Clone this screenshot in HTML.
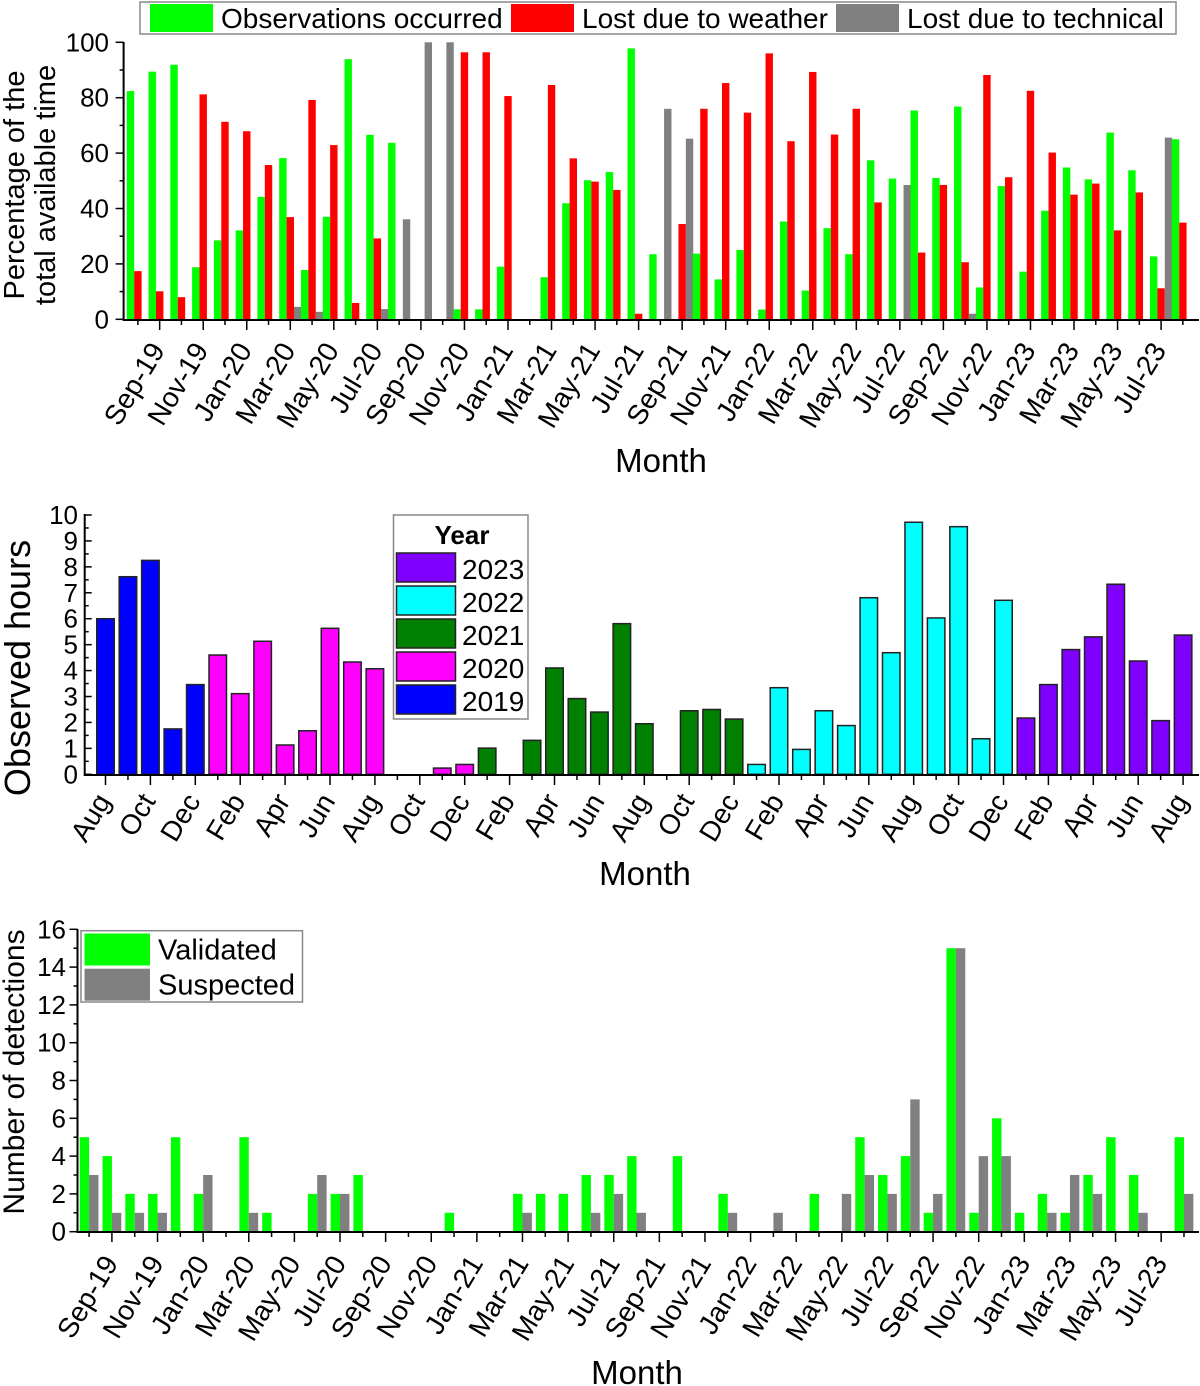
<!DOCTYPE html>
<html><head><meta charset="utf-8">
<style>
html,body{margin:0;padding:0;background:#fff;}
svg{display:block;font-family:"Liberation Sans",Arial,sans-serif;}
</style></head>
<body>
<svg id="fig" width="1200" height="1386" viewBox="0 0 1200 1386" xmlns="http://www.w3.org/2000/svg"></svg>
<script>
// ---------- Panel 1 data (percentage of available time), Aug-19 .. Aug-23 ----------
const p1Observed = [82.4,89.4,91.9,18.8,28.5,32.1,44.2,58.2,17.8,37,93.9,66.6,63.7,0,0,3.6,3.6,19,0,15.2,41.9,50.2,53.2,97.8,23.5,0,23.7,14.4,25,3.5,35.3,10.4,32.9,23.5,57.4,50.8,75.4,51,76.8,11.5,48.1,17.2,39.2,54.8,50.5,67.4,53.8,22.7,65];
const p1Weather = [17.4,10.1,8,81.2,71.3,67.9,55.7,36.9,79.2,62.9,5.9,29.2,0,0,0,96.4,96.4,80.6,0,84.6,58.1,49.7,46.7,2,0,34.4,76,85.3,74.6,96,64.3,89.3,66.7,76,42.2,0,24.1,48.5,20.6,88.2,51.3,82.5,60.2,45,49,32.1,45.8,11.2,34.9];
const p1Technical = [0,0,0,0,0,0,0,4.5,2.7,0,0,3.7,36.1,100,100,0,0,0,0,0,0,0,0,0,76,65.2,0,0,0,0,0,0,0,0,0,48.5,0,0,2,0,0,0,0,0,0,0,0,65.6,0];
const p1TickLabels = ["Sep-19","Nov-19","Jan-20","Mar-20","May-20","Jul-20","Sep-20","Nov-20","Jan-21","Mar-21","May-21","Jul-21","Sep-21","Nov-21","Jan-22","Mar-22","May-22","Jul-22","Sep-22","Nov-22","Jan-23","Mar-23","May-23","Jul-23"];
const p1YTicks = [0,20,40,60,80,100];

// ---------- Panel 2 data (observed hours) ----------
const p2Hours = [6.0,7.62,8.25,1.75,3.46,4.6,3.11,5.13,1.13,1.68,5.63,4.33,4.07,0,0,0.24,0.38,1.01,0,1.31,4.1,2.92,2.4,5.81,1.95,0,2.45,2.5,2.13,0.38,3.34,0.96,2.45,1.88,6.81,4.69,9.72,6.03,9.55,1.37,6.71,2.17,3.46,4.81,5.3,7.33,4.37,2.07,5.37];
const p2Year = [2019,2019,2019,2019,2019,2020,2020,2020,2020,2020,2020,2020,2020,2020,2020,2020,2020,2021,2021,2021,2021,2021,2021,2021,2021,2021,2021,2021,2021,2022,2022,2022,2022,2022,2022,2022,2022,2022,2022,2022,2022,2023,2023,2023,2023,2023,2023,2023,2023];
const p2TickLabels = ["Aug","Oct","Dec","Feb","Apr","Jun","Aug","Oct","Dec","Feb","Apr","Jun","Aug","Oct","Dec","Feb","Apr","Jun","Aug","Oct","Dec","Feb","Apr","Jun","Aug"];
const p2YTicks = [0,1,2,3,4,5,6,7,8,9,10];
const p2LegendYears = [2023,2022,2021,2020,2019];

// ---------- Panel 3 data (detections) ----------
const p3Validated = [5,4,2,2,5,2,0,5,1,0,2,2,3,0,0,0,1,0,0,2,2,2,3,3,4,0,4,0,2,0,0,0,2,0,5,3,4,1,15,1,6,1,2,1,3,5,3,0,5];
const p3Suspected = [3,1,1,1,0,3,0,1,0,0,3,2,0,0,0,0,0,0,0,1,0,0,1,2,1,0,0,0,1,0,1,0,0,2,3,2,7,2,15,4,4,0,1,3,2,0,1,0,2];
const p3TickLabels = p1TickLabels;
const p3YTicks = [0,2,4,6,8,10,12,14,16];

const NS = "http://www.w3.org/2000/svg";
const svg = document.getElementById("fig");
function mk(tag, attrs, parent, text) {
  const e = document.createElementNS(NS, tag);
  for (const k in attrs) e.setAttribute(k, attrs[k]);
  if (text !== undefined) e.textContent = text;
  (parent || svg).appendChild(e);
  return e;
}
const yearColor = {2019:"#0000ff",2020:"#ff00ff",2021:"#008000",2022:"#00ffff",2023:"#8000ff"};
const TICKFS = 28, YFS = 26, LEGFS = 28, TITLEFS = 33, ROT = -59;

// ================= PANEL 1 =================
{
  const g = mk("g", {});
  
  
  const x = i => 137.9 + 21.77 * i;
  const y = v => 319.3 - v * 2.77;
  const bw = 7.4;
  for (let i = 0; i < p1Observed.length; i++) {
    const series = [[p1Observed[i], "#00ff00", -1.5, "bar-observed"], [p1Weather[i], "#ff0000", -0.5, "bar-weather"], [p1Technical[i], "#808080", 0.5, "bar-technical"]];
    for (const [v, c, off, nm] of series) {
      if (v <= 0) continue;
      const r = mk("rect", {x: x(i) + off * bw, y: y(v), width: bw, height: y(0) - y(v), fill: c}, g);
      
      
    }
  }
  const ax = mk("path", {d: "M123.6,42 V320 H1199", stroke: "#000", "stroke-width": 2, fill: "none"}, g);
  
  
  for (let v = 0; v <= 100; v += 10) {
    const major = v % 20 === 0;
    mk("line", {x1: 123.6 - (major ? 8 : 4), x2: 123.6, y1: y(v), y2: y(v), stroke: "#000", "stroke-width": 1.5}, g);
  }
  p1YTicks.forEach(v => {
    const t = mk("text", {x: 109, y: y(v) + 9, "text-anchor": "end", "font-size": YFS}, g, String(v));
    
    
  });
  for (let i = 0; i < p1Observed.length; i++) {
    const major = i % 2 === 1;
    mk("line", {x1: x(i), x2: x(i), y1: 320, y2: 320 + (major ? 10 : 5), stroke: "#000", "stroke-width": 1.5}, g);
  }
  p1TickLabels.forEach((lab, k) => {
    const xx = x(2 * k + 1) + 6, yy = 350;
    const t = mk("text", {x: xx, y: yy, "text-anchor": "end", "font-size": TICKFS, transform: `rotate(${ROT} ${xx} ${yy})`}, g, lab);
    
    
  });
  const xt = mk("text", {x: 661, y: 472, "text-anchor": "middle", "font-size": TITLEFS}, g, "Month");
  
  
  const yt = mk("text", {transform: "translate(24,185) rotate(-90)", "text-anchor": "middle", "font-size": 29}, g);
  
  
  mk("tspan", {x: 0, dy: 0}, yt, "Percentage of the");
  mk("tspan", {x: 0, dy: 31}, yt, "total available time");
  const lg = mk("g", {}, g);
  
  
  mk("rect", {x: 140, y: 2, width: 1036, height: 32, fill: "#fff", stroke: "#888", "stroke-width": 1.5}, lg);
  [[150, "#00ff00", "Observations occurred", "legend-observed"], [511, "#ff0000", "Lost due to weather", "legend-weather"], [836, "#808080", "Lost due to technical", "legend-technical"]].forEach(([lx, c, txt, nm]) => {
    const e = mk("g", {}, lg);
    
    
    mk("rect", {x: lx, y: 4, width: 63, height: 28, fill: c}, e);
    mk("text", {x: lx + 71, y: 28, "font-size": LEGFS}, e, txt);
  });
}

// ================= PANEL 2 =================
{
  const g = mk("g", {});
  
  
  const x = i => 105.5 + 22.45 * i;
  const y = v => 774.3 - v * 25.93;
  const bw = 17.5;
  for (let i = 0; i < p2Hours.length; i++) {
    const v = p2Hours[i];
    if (v <= 0) continue;
    const r = mk("rect", {x: x(i) - bw / 2, y: y(v), width: bw, height: y(0) - y(v), fill: yearColor[p2Year[i]], stroke: "#222", "stroke-width": 1.5}, g);
    
    
  }
  const ax = mk("path", {d: "M84.7,514 V775 H1199", stroke: "#000", "stroke-width": 2, fill: "none"}, g);
  
  
  for (let v = 0; v <= 10; v += 0.5) {
    const major = Number.isInteger(v);
    mk("line", {x1: 84.7, x2: 84.7 + (major ? 7 : 4), y1: y(v), y2: y(v), stroke: "#000", "stroke-width": 1.5}, g);
  }
  p2YTicks.forEach(v => {
    const t = mk("text", {x: 78, y: y(v) + 9, "text-anchor": "end", "font-size": YFS}, g, String(v));
    
    
  });
  for (let i = 0; i < p2Hours.length; i++) {
    const major = i % 2 === 0;
    mk("line", {x1: x(i), x2: x(i), y1: 775, y2: 775 + (major ? 10 : 5), stroke: "#000", "stroke-width": 1.5}, g);
  }
  p2TickLabels.forEach((lab, k) => {
    const xx = x(2 * k) + 6, yy = 801;
    const t = mk("text", {x: xx, y: yy, "text-anchor": "end", "font-size": TICKFS, transform: `rotate(${ROT} ${xx} ${yy})`}, g, lab);
    
    
  });
  const xt = mk("text", {x: 645, y: 885, "text-anchor": "middle", "font-size": TITLEFS}, g, "Month");
  
  
  const yt = mk("text", {transform: "translate(30,668) rotate(-90)", "text-anchor": "middle", "font-size": 36}, g, "Observed hours");
  
  
  const lg = mk("g", {}, g);
  
  
  mk("rect", {x: 393.5, y: 515, width: 134.5, height: 204, fill: "#fff", stroke: "#888", "stroke-width": 1.5}, lg);
  mk("text", {x: 462, y: 544, "text-anchor": "middle", "font-size": 26, "font-weight": "bold"}, lg, "Year");
  p2LegendYears.forEach((yr, k) => {
    const e = mk("g", {}, lg);
    
    
    const ry = 553 + 33 * k;
    mk("rect", {x: 396.5, y: ry, width: 59, height: 29, fill: yearColor[yr], stroke: "#222", "stroke-width": 1.5}, e);
    mk("text", {x: 462, y: ry + 26, "font-size": LEGFS}, e, String(yr));
  });
}

// ================= PANEL 3 =================
{
  const g = mk("g", {});
  
  
  const x = i => 89.1 + 22.81 * i;
  const y = v => 1231.7 - v * 18.9;
  const bw = 9.4;
  for (let i = 0; i < p3Validated.length; i++) {
    if (p3Validated[i] > 0) {
      const r = mk("rect", {x: x(i) - bw, y: y(p3Validated[i]), width: bw, height: y(0) - y(p3Validated[i]), fill: "#00ff00"}, g);
      
      
    }
    if (p3Suspected[i] > 0) {
      const r = mk("rect", {x: x(i), y: y(p3Suspected[i]), width: bw, height: y(0) - y(p3Suspected[i]), fill: "#808080"}, g);
      
      
    }
  }
  const ax = mk("path", {d: "M77.5,929 V1232 H1199", stroke: "#000", "stroke-width": 2, fill: "none"}, g);
  
  
  for (let v = 0; v <= 16; v += 1) {
    const major = v % 2 === 0;
    mk("line", {x1: 77.5 - (major ? 8 : 4), x2: 77.5, y1: y(v), y2: y(v), stroke: "#000", "stroke-width": 1.5}, g);
  }
  p3YTicks.forEach(v => {
    const t = mk("text", {x: 66, y: y(v) + 9, "text-anchor": "end", "font-size": YFS}, g, String(v));
    
    
  });
  for (let i = 0; i < p3Validated.length; i++) {
    const major = i % 2 === 1;
    mk("line", {x1: x(i), x2: x(i), y1: 1232, y2: 1232 + (major ? 10 : 5), stroke: "#000", "stroke-width": 1.5}, g);
  }
  p3TickLabels.forEach((lab, k) => {
    const xx = x(2 * k + 1) + 7, yy = 1263;
    const t = mk("text", {x: xx, y: yy, "text-anchor": "end", "font-size": TICKFS, transform: `rotate(${ROT} ${xx} ${yy})`}, g, lab);
    
    
  });
  const xt = mk("text", {x: 637, y: 1384, "text-anchor": "middle", "font-size": TITLEFS}, g, "Month");
  
  
  const yt = mk("text", {transform: "translate(24,1072) rotate(-90)", "text-anchor": "middle", "font-size": 30}, g, "Number of detections");
  
  
  const lg = mk("g", {}, g);
  
  
  mk("rect", {x: 81, y: 930.7, width: 221.5, height: 71.3, fill: "#fff", stroke: "#888", "stroke-width": 1.5}, lg);
  [[933.5, "#00ff00", "Validated", "legend-validated"], [968.7, "#808080", "Suspected", "legend-suspected"]].forEach(([ly, c, txt, nm]) => {
    const e = mk("g", {}, lg);
    
    
    mk("rect", {x: 84.5, y: ly, width: 65.5, height: 32, fill: c}, e);
    mk("text", {x: 158, y: ly + 26, "font-size": 29}, e, txt);
  });
}
</script>
</body></html>
